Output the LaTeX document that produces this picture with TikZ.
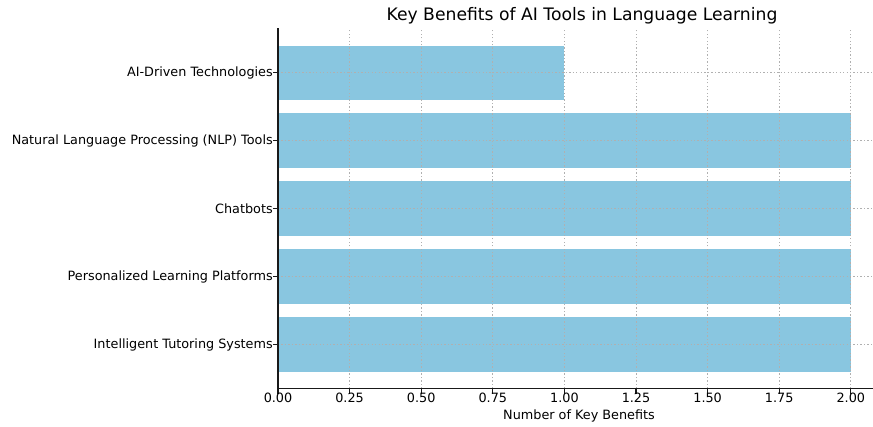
\documentclass[tikz,border=0pt]{standalone}
\usepackage{fontspec}
\setmainfont{DejaVu Sans}
\usetikzlibrary{calc}
\definecolor{BarClr}{RGB}{137,198,224}
\definecolor{GridClr}{RGB}{176,176,176}
\tikzset{
  bar/.style={fill=BarClr},
  gridline/.style={GridClr,line width=0.6pt,dash pattern=on 1pt off 1.6pt},
  spine/.style={line width=0.8pt,black!90},
  ticklabel/.style={font=\fontsize{9.6}{11}\selectfont,inner sep=0pt},
  titlelabel/.style={font=\fontsize{12.9}{15}\selectfont,inner sep=0pt}
}
\begin{document}
\begin{tikzpicture}[x=0.75pt,y=-0.75pt]
\useasboundingbox (0,0) rectangle (873,426);

\coordinate (O) at (278,388.5);
\coordinate (T) at (278,28);
\coordinate (R) at (873,388.5);
\def\unitx{286.4}
\def\stepy{67.95}

\foreach \lbl/\val [count=\i from 0] in {Intelligent Tutoring Systems/2,Personalized Learning Platforms/2,Chatbots/2,Natural Language Processing (NLP) Tools/2,AI-Driven Technologies/1}{
  \coordinate (c\i) at (278,{344.5-\stepy*\i});
  \fill[bar] ($(c\i)+(0,-27.2)$) rectangle ($(c\i)+({\unitx*\val},27.2)$);
}

\foreach \i in {0,...,4}{
  \draw[gridline] (c\i) -- (c\i -| R);
}
\foreach \v/\t in {0/0.00,1/0.25,2/0.50,3/0.75,4/1.00,5/1.25,6/1.50,7/1.75,8/2.00}{
  \coordinate (x\v) at ({278+\unitx*0.25*\v},388.5);
  \ifnum\v>0 \draw[gridline] (x\v) -- (x\v |- T); \fi
  \draw[spine] (x\v) -- ++(0,5);
  \node[ticklabel,anchor=north] (xl\v) at ($(x\v)+(0,4.5)$) {\t};
}

\foreach \lbl [count=\i from 0] in {Intelligent Tutoring Systems,Personalized Learning Platforms,Chatbots,Natural Language Processing (NLP) Tools,AI-Driven Technologies}{
  \draw[spine] (c\i) -- ++(-5,0);
  \node[ticklabel,anchor=east] (yl\i) at ($(c\i)+(-5,0)$) {\lbl};
}

\draw[spine] (T) -- (O) -- (R);

\node[ticklabel,anchor=north] (xlabel) at (579,409) {Number of Key Benefits};
\node[titlelabel] (title) at (582,16) {Key Benefits of AI Tools in Language Learning};

\end{tikzpicture}
\end{document}
